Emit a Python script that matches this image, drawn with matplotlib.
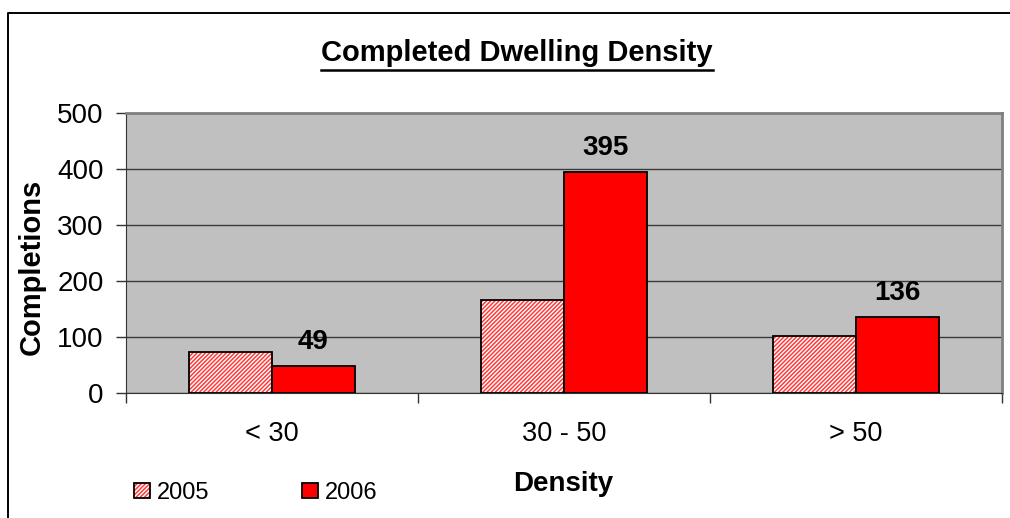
#!/usr/bin/env python3
"""Completed dwelling density by year, clustered bar chart."""

import matplotlib
matplotlib.use("Agg")
import matplotlib.pyplot as plt  # noqa: E402
from matplotlib.lines import Line2D  # noqa: E402
from matplotlib.legend_handler import HandlerTuple  # noqa: E402
import numpy as np  # noqa: E402

# ── Data ──────────────────────────────────────────────────────────────────
categories = ["< 30", "30 - 50", "> 50"]
years = ["2005", "2006"]
completions_2005 = [73, 166, 102]
completions_2006 = [49, 395, 136]

plt.rcParams["font.family"] = ["Liberation Sans", "DejaVu Sans"]
plt.rcParams["hatch.linewidth"] = 1.1

W, H = 1010, 518
fig = plt.figure(figsize=(W / 100, H / 100), dpi=100)
ax = fig.add_axes([126 / W, 1 - 393.3 / H, 876 / W, 280 / H])

x = np.arange(len(categories))
bw = 0.283

# 2005: fine red hatch on white, then a black outline on top
b05_fill = ax.bar(x - bw / 2, completions_2005, bw, facecolor="white",
                  edgecolor="#ff3a3a", linewidth=0, hatch="////////", zorder=3)
b05_edge = ax.bar(x - bw / 2, completions_2005, bw, facecolor="none",
                  edgecolor="black", linewidth=1.3, zorder=4)
b06 = ax.bar(x + bw / 2, completions_2006, bw, facecolor="#ff0000",
             edgecolor="black", linewidth=1.3, zorder=3)

# value labels on the 2006 bars only
for xi, v in zip(x, completions_2006):
    ax.annotate(str(v), (xi + bw / 2, v), xytext=(0, 8),
                textcoords="offset points", ha="center", va="bottom",
                fontsize=20, fontweight="bold")

# ── Axes styling ─────────────────────────────────────────────────────────
ax.set_facecolor("#c0c0c0")
ax.set_xlim(-0.5, len(categories) - 0.5)
ax.set_ylim(0, 500)
ax.set_yticks(range(0, 501, 100))
ax.yaxis.grid(True, color="#3a3a3a", linewidth=1.0, zorder=0)
ax.set_axisbelow(True)

ax.set_xticks(x)
ax.set_xticklabels(categories)
ax.set_xticks(np.arange(-0.5, len(categories)), minor=True)
ax.tick_params(axis="x", which="major", length=0, pad=20, labelsize=19.5)
ax.tick_params(axis="x", which="minor", length=7, width=1, color="#333333")
ax.tick_params(axis="y", length=7, width=1, pad=9, labelsize=20,
               color="#333333")

for side in ("top", "right"):
    ax.spines[side].set_color("#808080")
    ax.spines[side].set_linewidth(2)
ax.spines["left"].set_color("#333333")
ax.spines["bottom"].set_color("#333333")

ax.set_ylabel("Completions", fontsize=21, fontweight="bold")
ax.yaxis.set_label_coords(-0.092, 0.45)

# ── Titles and legend ────────────────────────────────────────────────────
title = fig.text(517 / W, 1 - 53 / H, "Completed Dwelling Density",
                 ha="center", va="center", fontsize=21, fontweight="bold")
fig.text(563 / W, 1 - 484 / H, "Density", ha="center", va="center",
         fontsize=20, fontweight="bold")

fig.legend([(b05_fill[0], b05_edge[0]), b06], years,
           handler_map={tuple: HandlerTuple(ndivide=1, pad=0)},
           loc="center left", bbox_to_anchor=(134 / W, 1 - 493 / H),
           ncol=2, frameon=False, fontsize=17, handlelength=0.68,
           handleheight=0.62, handletextpad=0.3, columnspacing=3.9,
           borderpad=0, borderaxespad=0)

# underline under the title
fig.canvas.draw()
bb = title.get_window_extent().transformed(fig.transFigure.inverted())
fig.add_artist(Line2D([bb.x0, bb.x1], [1 - 69.5 / H] * 2,
                      transform=fig.transFigure, color="black", linewidth=1.8))

# outer chart border (top and left edges visible)
fig.add_artist(Line2D([8 / W, 8 / W, 1.0], [0.0, 1 - 13 / H, 1 - 13 / H],
                      transform=fig.transFigure, color="black", linewidth=1.4))

fig.savefig("out.png", dpi=100)
